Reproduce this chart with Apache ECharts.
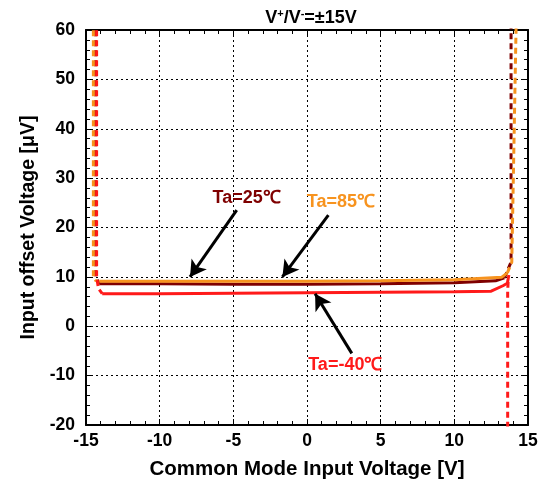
<!DOCTYPE html>
<html>
<head>
<meta charset="utf-8">
<script src="https://cdn.jsdelivr.net/npm/echarts@6/dist/echarts.min.js"></script>
<style>
  html, body { margin: 0; padding: 0; background: #fff; }
  #chart { width: 545px; height: 485px; }
</style>
</head>
<body>
<div id="chart"></div>
<script>
// 坐标刻度
const xTicks = [-15, -10, -5, 0, 5, 10, 15];
const yTicks = [-20, -10, 0, 10, 20, 30, 40, 50, 60];

// Ta=25℃
const t25Flat = [[-14.1, 8.6], [-10, 8.6], [-5, 8.5], [0, 8.5], [5, 8.6], [10, 8.8], [12.8, 9.2], [13.4, 9.8]];
const t25LeftDash = [[-14.35, 62], [-14.35, 10], [-14.1, 8.6]];
const t25RightDash = [[13.4, 9.8], [13.85, 13], [13.85, 62]];

// Ta=85℃
const t85Flat = [[-14.1, 9.1], [-10, 9.1], [-5, 9.1], [0, 9.1], [5, 9.2], [10, 9.4], [13.2, 9.9], [13.6, 10.8]];
const t85LeftDash = [[-14.5, 62], [-14.5, 10], [-14.3, 9.1]];
const t85RightDash = [[13.6, 10.8], [13.9, 13], [14.2, 62]];

// Ta=-40℃
const t40Flat = [[-13.9, 6.6], [-10, 6.6], [-5, 6.7], [0, 6.8], [5, 6.9], [10, 7.0], [12.5, 7.1], [13.3, 8.2], [13.6, 8.7], [13.7, 10.4]];
const t40LeftDash = [[-14.28, 62], [-14.28, 10], [-14.15, 7.6], [-13.9, 6.6]];
const t40RightDash = [[13.65, 9], [13.62, 7], [13.62, -25]];

// 注释文字与箭头
const labels = [
  { text: "Ta=25℃", at: [-4.1, 25.9], color: "#7f0000" },
  { text: "Ta=85℃", at: [2.3, 25.2], color: "#f7931e" },
  { text: "Ta=-40℃", at: [2.6, -7.9], color: "#ff1a1a" }
];
const arrows = [
  [[-4.77, 23.5], [-7.94, 10.0]],
  [[1.45, 22.5], [-1.67, 10.0]],
  [[3.04, -5.5], [0.55, 6.6]]
];

const FONT = "Liberation Sans";
const chart = echarts.init(document.getElementById("chart"));

const flat = (data, color) => ({
  type: "line", data, symbol: "none", smooth: false,
  lineStyle: { color, width: 3 }, silent: true
});
const dash = (data, color) => ({
  type: "line", data, symbol: "none",
  lineStyle: { color, width: 3, type: [6, 4] }, silent: true
});

const baseX = {
  type: "value", min: -15, max: 15, interval: 5,
  axisLine: { show: true, onZero: false, lineStyle: { color: "#000", width: 2 } },
  axisTick: { inside: true, length: 6, lineStyle: { color: "#000", width: 1 } },
  minorTick: { show: true, splitNumber: 5, length: 4, lineStyle: { color: "#000" } }
};
const baseY = {
  type: "value", min: -20, max: 60, interval: 10,
  axisLine: { show: true, onZero: false, lineStyle: { color: "#000", width: 2 } },
  axisTick: { inside: true, length: 6, lineStyle: { color: "#000", width: 1 } },
  minorTick: { show: true, splitNumber: 5, length: 4, lineStyle: { color: "#000" } }
};

const option = {
  animation: false,
  backgroundColor: "#fff",
  title: {
    text: "V{sup|+}/V{sup|-}=±15V",
    left: 306, top: 3, textAlign: "center",
    textStyle: {
      fontFamily: FONT, fontWeight: "bold", fontSize: 18, color: "#000",
      rich: { sup: { fontFamily: FONT, fontWeight: "bold", fontSize: 11, verticalAlign: "top", padding: [0, 0, 9, 0] } }
    }
  },
  grid: { left: 86, right: 17, top: 30, bottom: 57 },
  xAxis: [
    Object.assign({}, baseX, {
      position: "bottom",
      name: "Common Mode Input Voltage [V]",
      nameLocation: "middle", nameGap: 34,
      nameTextStyle: { fontFamily: FONT, fontWeight: "bold", fontSize: 20.5, color: "#000" },
      axisLabel: {
        fontFamily: FONT, fontWeight: "bold", fontSize: 17.5, color: "#000", margin: 7,
        formatter: v => xTicks.includes(v) ? String(v) : ""
      },
      splitLine: { show: true, lineStyle: { color: "#000", width: 1, type: [2, 3] } }
    }),
    Object.assign({}, baseX, {
      position: "top", axisLabel: { show: false }, splitLine: { show: false }
    })
  ],
  yAxis: [
    Object.assign({}, baseY, {
      position: "left",
      name: "Input offset Voltage [μV]",
      nameLocation: "middle", nameGap: 42,
      nameTextStyle: { fontFamily: FONT, fontWeight: "bold", fontSize: 19.5, color: "#000" },
      axisLabel: {
        fontFamily: FONT, fontWeight: "bold", fontSize: 17.5, color: "#000", margin: 11,
        formatter: v => yTicks.includes(v) ? String(v) : ""
      },
      splitLine: { show: true, lineStyle: { color: "#000", width: 1, type: [2, 3] } }
    }),
    Object.assign({}, baseY, {
      position: "right", axisLabel: { show: false }, splitLine: { show: false }
    })
  ],
  series: [
    flat(t25Flat, "#7f0000"),
    dash(t25LeftDash, "#7f0000"),
    dash(t25RightDash, "#7f0000"),
    flat(t85Flat, "#f7931e"),
    dash(t85LeftDash, "#f7931e"),
    dash(t85RightDash, "#f7931e"),
    flat(t40Flat, "#ff1a1a"),
    dash(t40LeftDash, "#ff1a1a"),
    dash(t40RightDash, "#ff1a1a"),
    {
      type: "line", data: [], silent: true,
      markLine: {
        silent: true, animation: false,
        symbol: ["none", "arrow"], symbolSize: [14, 16],
        lineStyle: { color: "#000", width: 3, type: "solid" },
        label: { show: false },
        data: arrows.map(a => [{ coord: a[0] }, { coord: a[1] }])
      },
      markPoint: {
        silent: true, animation: false, symbolSize: 0,
        data: labels.map(l => ({
          coord: l.at,
          label: {
            show: true, position: "inside", formatter: l.text,
            fontFamily: FONT, fontWeight: "bold", fontSize: 18, color: l.color
          }
        }))
      }
    }
  ]
};

chart.setOption(option);
</script>
</body>
</html>
